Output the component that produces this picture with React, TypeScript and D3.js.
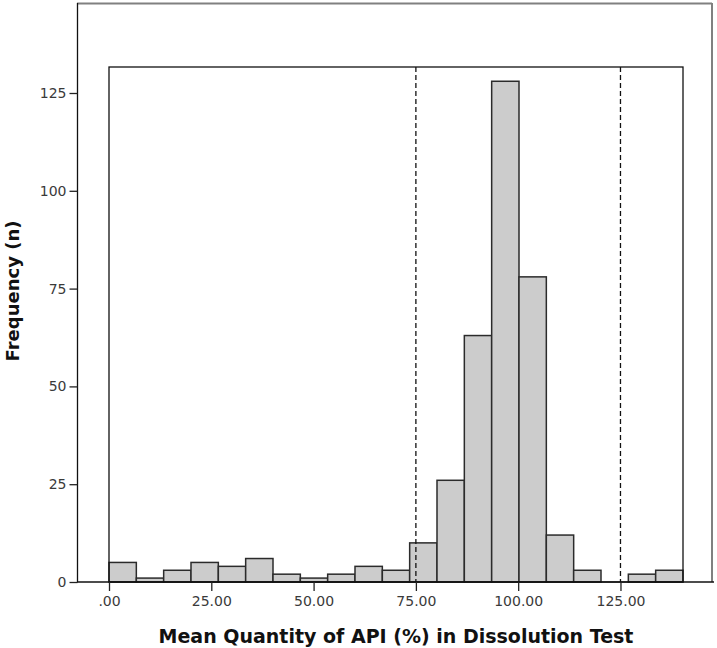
import React, { useEffect, useRef } from 'react';
import * as d3 from 'd3';

// histogram counts, 21 bins from 0 to ~140.3
const binWidth = 6.68;
const counts = [5, 1, 3, 5, 4, 6, 2, 1, 2, 4, 3, 10, 26, 63, 128, 78, 12, 3, 0, 2, 3];
const xTicks = [0, 25, 50, 75, 100, 125];
const yTicks = [0, 25, 50, 75, 100, 125];
const refLines = [75, 125];
const xTitle = 'Mean Quantity of API (%) in Dissolution Test';
const yTitle = 'Frequency (n)';

export default function App() {
  const svgRef = useRef<SVGSVGElement>(null);

  useEffect(() => {
    const width = 717;
    const height = 648;
    const svg = d3.select(svgRef.current).attr('width', width).attr('height', height);
    svg.selectAll('*').remove();

    // inner plot area
    const left = 109, right = 683, top = 67, bottom = 582;
    const xMax = binWidth * counts.length;

    const x = d3.scaleLinear().domain([0, xMax]).range([left, right]);
    const y = d3.scaleLinear().domain([0, 125]).range([bottom, 93]);

    // outer frame
    svg.append('line').attr('x1', 77).attr('x2', 712).attr('y1', 3.5).attr('y2', 3.5)
      .attr('stroke', '#808080').attr('stroke-width', 2);
    svg.append('line').attr('x1', 712).attr('x2', 712).attr('y1', 3).attr('y2', bottom)
      .attr('stroke', '#808080').attr('stroke-width', 2);

    // bars
    svg.append('g').selectAll('rect')
      .data(counts)
      .join('rect')
      .attr('x', (d, i) => x(i * binWidth))
      .attr('width', x(binWidth) - x(0))
      .attr('y', d => y(d))
      .attr('height', d => y(0) - y(d))
      .attr('fill', '#cccccc')
      .attr('stroke', d => (d > 0 ? '#2b2b2b' : 'none'))
      .attr('stroke-width', 1.5);

    // inner box
    svg.append('rect').attr('x', left).attr('y', top).attr('width', right - left).attr('height', bottom - top)
      .attr('fill', 'none').attr('stroke', '#111').attr('stroke-width', 1.3);

    // dashed reference lines
    svg.append('g').selectAll('line')
      .data(refLines)
      .join('line')
      .attr('x1', d => x(d)).attr('x2', d => x(d))
      .attr('y1', top).attr('y2', bottom)
      .attr('stroke', '#111').attr('stroke-width', 1.3)
      .attr('stroke-dasharray', '5,3');

    // y axis
    const yAxis = d3.axisLeft(y).tickValues(yTicks).tickSize(8).tickPadding(3).tickFormat(d3.format('d'));
    const yg = svg.append('g').attr('transform', 'translate(77.5,0)').call(yAxis);
    yg.select('.domain').attr('d', `M0,3V${bottom}`).attr('stroke', '#111').attr('stroke-width', 1.3);

    // x axis
    const xAxis = d3.axisBottom(x).tickValues(xTicks).tickSize(9).tickPadding(5)
      .tickFormat(d => (+d === 0 ? '.00' : d3.format('.2f')(+d)));
    const xg = svg.append('g').attr('transform', `translate(0,${bottom})`).call(xAxis);
    xg.select('.domain').attr('d', 'M77,0H714').attr('stroke', '#111').attr('stroke-width', 1.3);

    svg.selectAll('.tick line').attr('stroke', '#222').attr('stroke-width', 1.3);
    svg.selectAll('.tick text')
      .attr('font-family', 'DejaVu Sans').attr('font-size', 14).attr('fill', '#3a3a3a');

    // titles
    svg.append('text')
      .attr('x', 396).attr('y', 643)
      .attr('text-anchor', 'middle')
      .attr('font-family', 'DejaVu Sans').attr('font-weight', 'bold').attr('font-size', 19)
      .attr('fill', '#111')
      .text(xTitle);
    svg.append('text')
      .attr('transform', 'translate(19,291) rotate(-90)')
      .attr('text-anchor', 'middle')
      .attr('font-family', 'DejaVu Sans').attr('font-weight', 'bold').attr('font-size', 18)
      .attr('fill', '#111')
      .text(yTitle);
  }, []);

  return (
    <div style={{ position: 'absolute', left: 0, top: 0 }}>
      <svg ref={svgRef} style={{ display: 'block' }}></svg>
    </div>
  );
}
